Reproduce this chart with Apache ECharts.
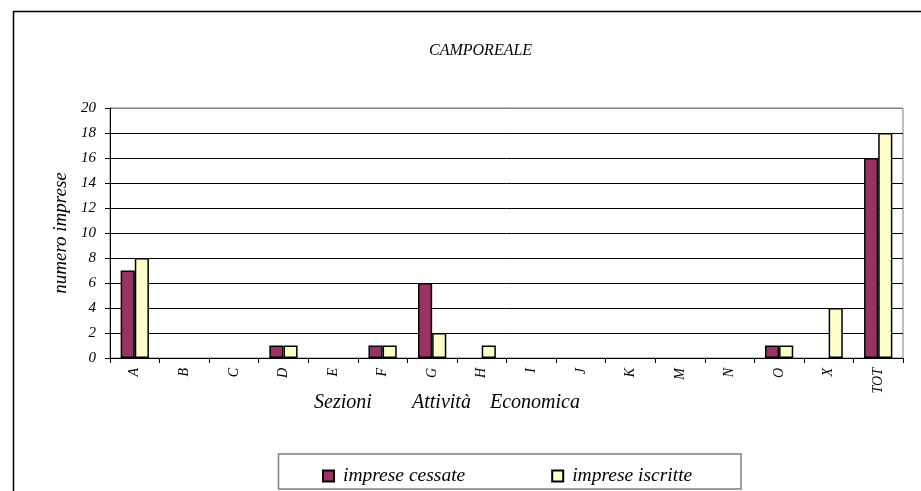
<!DOCTYPE html>
<html><head><meta charset="utf-8">
<script src="https://cdn.jsdelivr.net/npm/echarts@6/dist/echarts.min.js"></script>
<style>html,body{margin:0;padding:0;background:#fff}#c{width:921px;height:491px}</style>
</head><body><div id="c"></div>
<script>
var categories = ['A','B','C','D','E','F','G','H','I','J','K','M','N','O','X','TOT'];
var cessate =   [7,0,0,1,0,1,6,0,0,0,0,0,0,1,0,16];
var iscritte =  [8,0,0,1,0,1,2,1,0,0,0,0,0,1,4,18];
var seriesNames = ['imprese cessate','imprese iscritte'];
var xNameParts = ['Sezioni','Attività','Economica'];
var yTicks = {min:0, max:20, interval:2};
var font = 'Liberation Serif';

function toItems(arr){
  return arr.map(function(v){
    return v === 0 ? {value:v, itemStyle:{borderWidth:0, opacity:0}} : v;
  });
}

var chart = echarts.init(document.getElementById('c'));
var gridColors = [];
for (var i = 0; i < 10; i++) gridColors.push('#000');
gridColors.push('#808080');
chart.setOption({
  animation:false,
  title:{text:'CAMPOREALE', left:424, top:38,
    textStyle:{fontFamily:font, fontStyle:'italic', fontWeight:'normal', fontSize:16, color:'#000'}},
  grid:{left:110, right:18, top:108, bottom:133, show:true, borderColor:'#808080', borderWidth:1},
  legend:{left:317, top:461, itemWidth:11, itemHeight:11, itemGap:86, icon:'rect',
    textStyle:{fontFamily:font, fontStyle:'italic', fontSize:19.5, color:'#000', padding:[0,0,0,4]},
    data:seriesNames},
  xAxis:{type:'category', data:categories,
    axisLine:{lineStyle:{color:'#000'}},
    axisTick:{show:true, length:5, lineStyle:{color:'#000'}},
    axisLabel:{rotate:90, margin:10, fontFamily:font, fontStyle:'italic', fontSize:14, color:'#000'}},
  yAxis:{type:'value', min:yTicks.min, max:yTicks.max, interval:yTicks.interval,
    name:'numero imprese', nameLocation:'middle', nameGap:40,
    nameTextStyle:{fontFamily:font, fontStyle:'italic', fontSize:19, color:'#000'},
    axisLine:{show:true, lineStyle:{color:'#000'}},
    axisTick:{show:true, length:5, lineStyle:{color:'#000'}},
    axisLabel:{margin:14, fontFamily:font, fontStyle:'italic', fontSize:15, color:'#000'},
    splitLine:{show:true, lineStyle:{color:gridColors}}},
  series:[
    {name:seriesNames[0], type:'bar', data:toItems(cessate), barGap:0, barCategoryGap:'43%',
     itemStyle:{color:'#993366', borderColor:'#000', borderWidth:1.5}},
    {name:seriesNames[1], type:'bar', data:toItems(iscritte), barGap:0, barCategoryGap:'43%',
     itemStyle:{color:'#FFFFCC', borderColor:'#000', borderWidth:1.5}}
  ],
  graphic:[
    {type:'rect', shape:{x:13.5, y:11.5, width:1000, height:1000}, style:{fill:null, stroke:'#000', lineWidth:1.5}},
    {type:'rect', shape:{x:278.5, y:454, width:462.5, height:35}, style:{fill:null, stroke:'#808080', lineWidth:1.5}},
    {type:'text', left:314, top:393, style:{text:xNameParts[0], font:'italic 20px "Liberation Serif"', fill:'#000'}},
    {type:'text', left:412, top:393, style:{text:xNameParts[1], font:'italic 20px "Liberation Serif"', fill:'#000'}},
    {type:'text', left:490, top:393, style:{text:xNameParts[2], font:'italic 20px "Liberation Serif"', fill:'#000'}}
  ]
});
</script></body></html>
